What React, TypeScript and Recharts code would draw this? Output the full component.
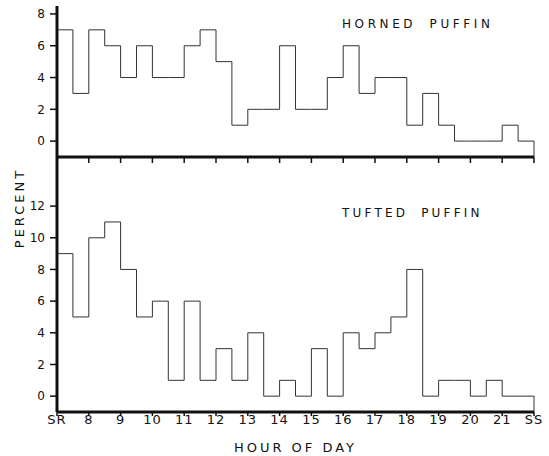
import { LineChart, Line, XAxis, YAxis } from 'recharts'

// half-hour bins from sunrise (SR, ~07:00) to sunset (SS, ~22:00)
const hourTicks = [7, 8, 9, 10, 11, 12, 13, 14, 15, 16, 17, 18, 19, 20, 21, 22]
const hourLabels = ['SR', '8', '9', '10', '11', '12', '13', '14', '15', '16', '17', '18', '19', '20', '21', 'SS']
const binStart = 7
const binWidth = 0.5

const hornedPercent = [7, 3, 7, 6, 4, 6, 4, 4, 6, 7, 5, 1, 2, 2, 6, 2, 2, 4, 6, 3, 4, 4, 1, 3, 1, 0, 0, 0, 1, 0]
const tuftedPercent = [9, 5, 10, 11, 8, 5, 6, 1, 6, 1, 3, 1, 4, 0, 1, 0, 3, 0, 4, 3, 4, 5, 8, 0, 1, 1, 0, 1, 0, 0]

const hornedTicks = [0, 2, 4, 6, 8]
const tuftedTicks = [0, 2, 4, 6, 8, 10, 12]

const hornedDomain: [number, number] = [-1, 8.5]
const tuftedDomain: [number, number] = [-1, 15.1]

const FONT = '"DejaVu Sans", sans-serif'
const INK = '#111'

// outline of the histogram: rise from the axis, step along the bins, drop back down
function stepData(values: number[], base: number) {
  const end = binStart + values.length * binWidth
  return [
    { h: binStart, v: base },
    ...values.map((v, i) => ({ h: binStart + i * binWidth, v })),
    { h: end, v: values[values.length - 1] },
    { h: end, v: base },
  ]
}

const hornedData = stepData(hornedPercent, hornedDomain[0])
const tuftedData = stepData(tuftedPercent, tuftedDomain[0])

const hourLabel = (h: number) => hourLabels[hourTicks.indexOf(h)] ?? ''

const axisLine = { stroke: INK, strokeWidth: 3 }
const tickLine = { stroke: INK, strokeWidth: 1.5 }

export default function App() {
  return (
    <div style={{ position: 'absolute', left: 0, top: 0, width: 549, height: 456, background: '#fff', fontFamily: FONT }}>
      <div style={{ position: 'absolute', left: 0, top: 0 }}>
        <LineChart width={549} height={170} data={hornedData} margin={{ top: 6, right: 15, bottom: 0, left: 27 }}>
          <XAxis
            type="number"
            dataKey="h"
            domain={[7, 22]}
            ticks={hourTicks}
            tickFormatter={() => ''}
            height={13}
            tickSize={6}
            axisLine={axisLine}
            tickLine={tickLine}
          />
          <YAxis
            domain={hornedDomain}
            ticks={hornedTicks}
            width={30}
            tickSize={7}
            tickMargin={5}
            axisLine={axisLine}
            tickLine={tickLine}
            tick={{ fill: INK, fontSize: 12, fontFamily: FONT }}
          />
          <Line dataKey="v" type="stepAfter" stroke="#333" strokeWidth={1} dot={false} isAnimationActive={false} />
        </LineChart>
      </div>
      <div style={{ position: 'absolute', left: 0, top: 157 }}>
        <LineChart width={549} height={299} data={tuftedData} margin={{ top: 0, right: 15, bottom: 0, left: 27 }}>
          <XAxis
            type="number"
            dataKey="h"
            domain={[7, 22]}
            ticks={hourTicks}
            tickFormatter={hourLabel}
            height={44}
            tickSize={4}
            tickMargin={-1}
            axisLine={axisLine}
            tickLine={tickLine}
            tick={{ fill: INK, fontSize: 13, fontFamily: FONT, letterSpacing: 1 }}
            label={{ value: 'HOUR OF DAY', position: 'insideBottom', offset: 4, fill: INK, fontSize: 13, fontFamily: FONT, letterSpacing: 3 }}
          />
          <YAxis
            domain={tuftedDomain}
            ticks={tuftedTicks}
            width={30}
            tickSize={7}
            tickMargin={5}
            axisLine={axisLine}
            tickLine={tickLine}
            tick={{ fill: INK, fontSize: 12, fontFamily: FONT }}
          />
          <Line dataKey="v" type="stepAfter" stroke="#333" strokeWidth={1} dot={false} isAnimationActive={false} />
        </LineChart>
      </div>
      <div style={{ position: 'absolute', left: 342, top: 17, fontSize: 12, lineHeight: '14px', letterSpacing: 3.6, wordSpacing: 6, color: INK, whiteSpace: 'nowrap' }}>
        HORNED PUFFIN
      </div>
      <div style={{ position: 'absolute', left: 342, top: 206, fontSize: 12, lineHeight: '14px', letterSpacing: 3.2, wordSpacing: 6, color: INK, whiteSpace: 'nowrap' }}>
        TUFTED PUFFIN
      </div>
      <div style={{ position: 'absolute', left: -30, top: 200, width: 100, height: 16, lineHeight: '16px', textAlign: 'center', fontSize: 13, letterSpacing: 3, color: INK, transform: 'rotate(-90deg)', whiteSpace: 'nowrap' }}>
        PERCENT
      </div>
    </div>
  )
}
